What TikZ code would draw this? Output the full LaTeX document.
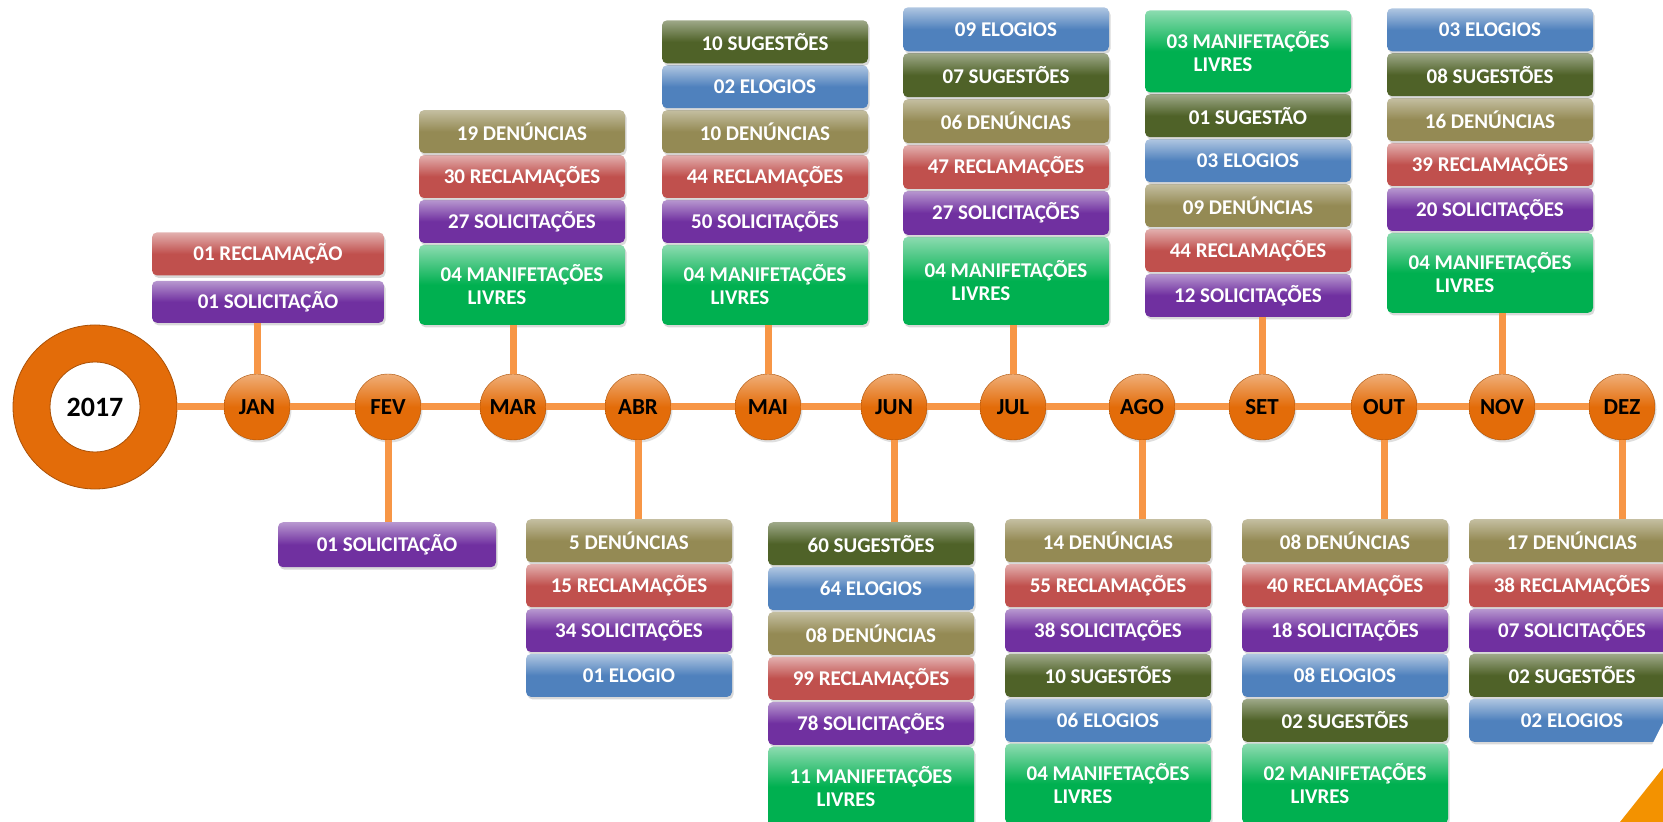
\documentclass[tikz,border=0pt]{standalone}
\usepackage{fontspec}
\setmainfont{Carlito}
\usetikzlibrary{positioning,shadows}
\definecolor{cRec}{HTML}{C0504D}
\definecolor{cSol}{HTML}{7030A0}
\definecolor{cDen}{HTML}{948A54}
\definecolor{cSug}{HTML}{4F6228}
\definecolor{cElo}{HTML}{4F81BD}
\definecolor{cLiv}{HTML}{00B050}
\definecolor{cMes}{HTML}{E36C09}
\definecolor{cLine}{HTML}{F79646}
\definecolor{cCorner}{HTML}{F39200}
\begin{document}
\begin{tikzpicture}[x=1pt, y=1pt, node distance=1.5pt,
    item/.style={rectangle, rounded corners=5pt, minimum width=206pt, minimum height=43pt, inner sep=0pt, text=white, font=\bfseries\fontsize{21}{23}\selectfont, drop shadow={opacity=0.3, shadow xshift=1.5pt, shadow yshift=-2.5pt}},
    rec/.style={item, top color=cRec!45!white, bottom color=cRec, middle color=cRec},
    sol/.style={item, top color=cSol!50!white, bottom color=cSol, middle color=cSol},
    den/.style={item, top color=cDen!55!white, bottom color=cDen, middle color=cDen},
    sug/.style={item, top color=cSug!55!white, bottom color=cSug, middle color=cSug},
    elo/.style={item, top color=cElo!45!white, bottom color=cElo, middle color=cElo},
    livre/.style={item, minimum height=80pt, align=left, top color=cLiv!45!white, bottom color=cLiv, middle color=cLiv},
    mes/.style={circle, minimum size=66pt, inner sep=0pt, draw=cMes!75!black, top color=cMes!55!white, bottom color=cMes, middle color=cMes, font=\bfseries\fontsize{23}{25}\selectfont, drop shadow={opacity=0.25, shadow xshift=1.5pt, shadow yshift=-2.5pt}},
    ano/.style={circle, minimum size=127pt, inner sep=0pt, draw=cMes, line width=37pt, fill=white, font=\bfseries\fontsize{28}{30}\selectfont},
    link/.style={cLine, line width=7pt}]
    \useasboundingbox (0,0) rectangle (1663,822);
    \node [ano] (ano) at (95,415) {2017};
    \draw [cMes!75!black, line width=0.8pt] (ano.center) circle (82) (ano.center) circle (45);
    \node [mes] (jan) at (257,415) {JAN};
    \node [mes] (fev) at (388,415) {FEV};
    \node [mes] (mar) at (513,415) {MAR};
    \node [mes] (abr) at (638,415) {ABR};
    \node [mes] (mai) at (768,415) {MAI};
    \node [mes] (jun) at (894,415) {JUN};
    \node [mes] (jul) at (1013,415) {JUL};
    \node [mes] (ago) at (1142,415) {AGO};
    \node [mes] (set) at (1262,415) {SET};
    \node [mes] (out) at (1384,415) {OUT};
    \node [mes] (nov) at (1502,415) {NOV};
    \node [mes] (dez) at (1622,415) {DEZ};
    \draw [link] (ano) -- (jan) -- (fev) -- (mar) -- (abr) -- (mai) -- (jun) -- (jul) -- (ago) -- (set) -- (out) -- (nov) -- (dez);

    \node [sol, minimum width=232pt, minimum height=42pt, anchor=south] (jan2) at (268,499) {01 SOLICITAÇÃO};
    \node [rec, minimum width=232pt, above=5pt of jan2] (jan1) {01 RECLAMAÇÃO};

    \node [sol, minimum width=218pt, minimum height=45pt, anchor=north] (fev1) at (387,300) {01 SOLICITAÇÃO};

    \node [livre, anchor=south] (mar4) at (522,497) {04 MANIFETAÇÕES\\\hspace*{27pt}LIVRES};
    \node [sol, above=of mar4] (mar3) {27 SOLICITAÇÕES};
    \node [rec, above=of mar3] (mar2) {30 RECLAMAÇÕES};
    \node [den, above=of mar2] (mar1) {19 DENÚNCIAS};

    \node [den, anchor=north] (abr1) at (629,303) {5 DENÚNCIAS};
    \node [rec, below=of abr1] (abr2) {15 RECLAMAÇÕES};
    \node [sol, below=of abr2] (abr3) {34 SOLICITAÇÕES};
    \node [elo, below=of abr3] (abr4) {01 ELOGIO};

    \node [livre, anchor=south] (mai6) at (765,497) {04 MANIFETAÇÕES\\\hspace*{27pt}LIVRES};
    \node [sol, above=of mai6] (mai5) {50 SOLICITAÇÕES};
    \node [rec, above=of mai5] (mai4) {44 RECLAMAÇÕES};
    \node [den, above=of mai4] (mai3) {10 DENÚNCIAS};
    \node [elo, above=of mai3] (mai2) {02 ELOGIOS};
    \node [sug, above=of mai2] (mai1) {10 SUGESTÕES};

    \node [sug, anchor=north] (jun1) at (871,300) {60 SUGESTÕES};
    \node [elo, below=of jun1] (jun2) {64 ELOGIOS};
    \node [den, below=of jun2] (jun3) {08 DENÚNCIAS};
    \node [rec, below=of jun3] (jun4) {99 RECLAMAÇÕES};
    \node [sol, below=of jun4] (jun5) {78 SOLICITAÇÕES};
    \node [livre, below=of jun5] (jun6) {11 MANIFETAÇÕES\\\hspace*{27pt}LIVRES};

    \node [livre, minimum height=88pt, anchor=south] (jul6) at (1006,497) {04 MANIFETAÇÕES\\\hspace*{27pt}LIVRES};
    \node [sol, minimum height=44pt, above=of jul6] (jul5) {27 SOLICITAÇÕES};
    \node [rec, minimum height=44pt, above=of jul5] (jul4) {47 RECLAMAÇÕES};
    \node [den, minimum height=44pt, above=of jul4] (jul3) {06 DENÚNCIAS};
    \node [sug, minimum height=44pt, above=of jul3] (jul2) {07 SUGESTÕES};
    \node [elo, minimum height=44pt, above=of jul2] (jul1) {09 ELOGIOS};

    \node [den, anchor=north] (ago1) at (1108,303) {14 DENÚNCIAS};
    \node [rec, below=of ago1] (ago2) {55 RECLAMAÇÕES};
    \node [sol, below=of ago2] (ago3) {38 SOLICITAÇÕES};
    \node [sug, below=of ago3] (ago4) {10 SUGESTÕES};
    \node [elo, below=of ago4] (ago5) {06 ELOGIOS};
    \node [livre, below=of ago5] (ago6) {04 MANIFETAÇÕES\\\hspace*{27pt}LIVRES};

    \node [sol, anchor=south] (set6) at (1248,505) {12 SOLICITAÇÕES};
    \node [rec, above=of set6] (set5) {44 RECLAMAÇÕES};
    \node [den, above=of set5] (set4) {09 DENÚNCIAS};
    \node [elo, above=of set4] (set3) {03 ELOGIOS};
    \node [sug, above=of set3] (set2) {01 SUGESTÃO};
    \node [livre, minimum height=82pt, above=of set2] (set1) {03 MANIFETAÇÕES\\\hspace*{27pt}LIVRES};

    \node [den, anchor=north] (out1) at (1345,303) {08 DENÚNCIAS};
    \node [rec, below=of out1] (out2) {40 RECLAMAÇÕES};
    \node [sol, below=of out2] (out3) {18 SOLICITAÇÕES};
    \node [elo, below=of out3] (out4) {08 ELOGIOS};
    \node [sug, below=of out4] (out5) {02 SUGESTÕES};
    \node [livre, below=of out5] (out6) {02 MANIFETAÇÕES\\\hspace*{27pt}LIVRES};

    \node [livre, anchor=south] (nov6) at (1490,509) {04 MANIFETAÇÕES\\\hspace*{27pt}LIVRES};
    \node [sol, above=of nov6] (nov5) {20 SOLICITAÇÕES};
    \node [rec, above=of nov5] (nov4) {39 RECLAMAÇÕES};
    \node [den, above=of nov4] (nov3) {16 DENÚNCIAS};
    \node [sug, above=of nov3] (nov2) {08 SUGESTÕES};
    \node [elo, above=of nov2] (nov1) {03 ELOGIOS};

    \node [den, anchor=north] (dez1) at (1572,303) {17 DENÚNCIAS};
    \node [rec, below=of dez1] (dez2) {38 RECLAMAÇÕES};
    \node [sol, below=of dez2] (dez3) {07 SOLICITAÇÕES};
    \node [sug, below=of dez3] (dez4) {02 SUGESTÕES};
    \node [elo, below=of dez4] (dez5) {02 ELOGIOS};

    \draw [link] (jan) -- (jan |- jan2.south);
    \draw [link] (fev) -- (fev |- fev1.north);
    \draw [link] (mar) -- (mar |- mar4.south);
    \draw [link] (abr) -- (abr |- abr1.north);
    \draw [link] (mai) -- (mai |- mai6.south);
    \draw [link] (jun) -- (jun |- jun1.north);
    \draw [link] (jul) -- (jul |- jul6.south);
    \draw [link] (ago) -- (ago |- ago1.north);
    \draw [link] (set) -- (set |- set6.south);
    \draw [link] (out) -- (out |- out1.north);
    \draw [link] (nov) -- (nov |- nov6.south);
    \draw [link] (dez) -- (dez |- dez1.north);

    \fill [white] (1613,0) -- (1663,99) -- (1663,0) -- cycle;
    \fill [cCorner] (1620,0) -- (1663,54) -- (1663,0) -- cycle;
\end{tikzpicture}
\end{document}
